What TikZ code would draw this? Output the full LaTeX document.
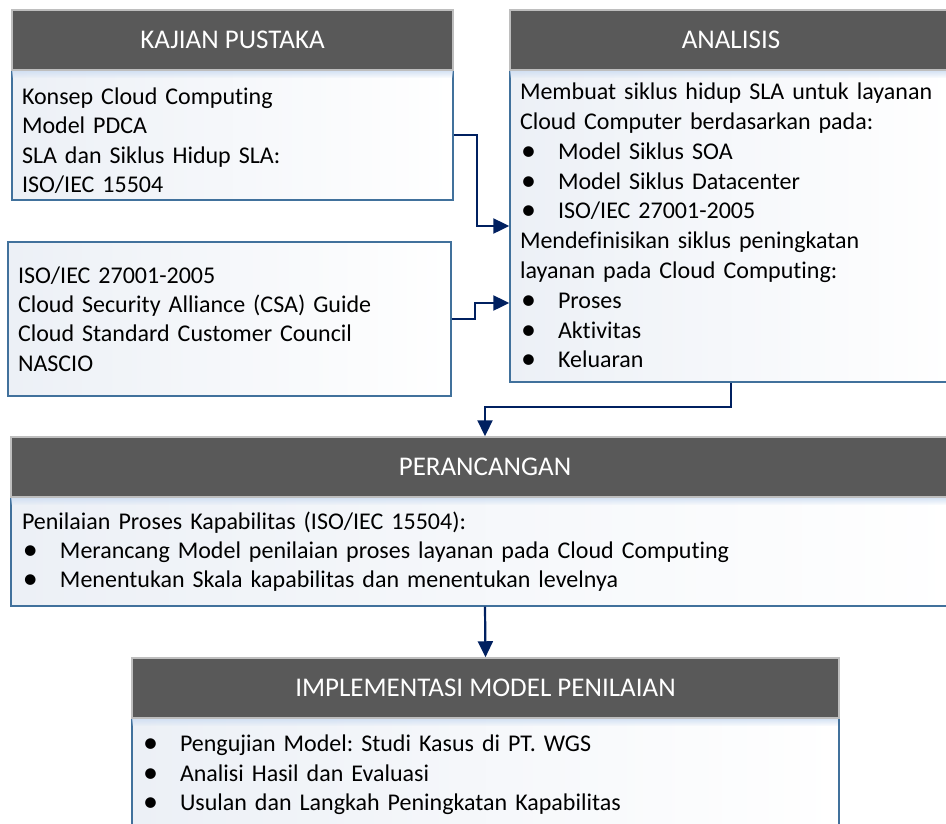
\documentclass[tikz,border=0pt]{standalone}
\usepackage{fontspec}
\setmainfont{Carlito}[Ligatures=NoCommon]
\usetikzlibrary{arrows.meta,fadings}

\definecolor{headgray}{RGB}{89,89,89}
\definecolor{headline}{RGB}{190,190,190}
\definecolor{boxline}{RGB}{65,113,156}
\definecolor{boxtint}{RGB}{236,240,246}
\definecolor{boxglow}{RGB}{205,221,242}
\definecolor{navy}{RGB}{0,32,96}

\newcommand\blt{\makebox[38pt][l]{\hspace{1pt}\raisebox{-1pt}{\fontsize{30}{30}\selectfont\textbullet}}}
\frenchspacing

\begin{document}
\begin{tikzpicture}[x=1pt,y=-1pt,
	head/.style={draw=headline,line width=1.5pt,fill=headgray,text=white,inner sep=0pt,
		minimum height=60pt,font=\fontsize{27}{30}\selectfont},
	body/.style={draw=boxline,line width=1.4pt,left color=boxtint,right color=white,
		inner xsep=10pt,inner ysep=0pt,align=left,font=\fontsize{24}{29.3}\selectfont},
	glow/.style={fill=boxglow,path fading=south},
	link/.style={draw=navy,line width=2.2pt,-{Triangle[length=16pt,width=15pt]}}]
	\useasboundingbox (0,0) rectangle (946,823);
	\clip (0,0) rectangle (946,823);

	% kajian pustaka
	\node (kbody) at (232.5,135) [body,minimum width=441pt,minimum height=130pt,text width=421pt]
		{\rule{0pt}{28pt}Konsep Cloud Computing\\Model PDCA\\SLA dan Siklus Hidup SLA:\\ISO/IEC 15504};
	\fill[glow] ([xshift=1pt]kbody.north west) rectangle ([xshift=-1pt,yshift=-9pt]kbody.north east);
	\node (khead) at (232.5,40) [head,minimum width=441pt] {KAJIAN PUSTAKA};

	% standar
	\node (sbody) at (229.5,319) [body,minimum width=443pt,minimum height=154pt,text width=423pt]
		{ISO/IEC 27001-2005\\Cloud Security Alliance (CSA) Guide\\Cloud Standard Customer Council\\NASCIO};

	% analisis
	\node (abody) at (731,226) [body,minimum width=442pt,minimum height=312pt,text width=422pt,
		font=\fontsize{24}{29.8}\selectfont]
		{Membuat siklus hidup SLA untuk layanan\\Cloud Computer berdasarkan pada:\\
		\blt Model Siklus SOA\\\blt Model Siklus Datacenter\\\blt ISO/IEC 27001-2005\\
		Mendefinisikan siklus peningkatan\\layanan pada Cloud Computing:\\
		\blt Proses\\\blt Aktivitas\\\blt Keluaran};
	\fill[glow] ([xshift=1pt]abody.north west) rectangle ([xshift=-1pt,yshift=-9pt]abody.north east);
	\node (ahead) at (731,40) [head,minimum width=442pt] {ANALISIS};

	% perancangan
	\node (pbody) at (485,551.5) [body,minimum width=948pt,minimum height=109pt,text width=926pt,inner xsep=11pt]
		{Penilaian Proses Kapabilitas (ISO/IEC 15504):\\
		\blt Merancang Model penilaian proses layanan pada Cloud Computing\\
		\blt Menentukan Skala kapabilitas dan menentukan levelnya};
	\fill[glow] ([xshift=1pt]pbody.north west) rectangle ([xshift=-1pt,yshift=-9pt]pbody.north east);
	\node (phead) at (485,467) [head,minimum width=948pt] {PERANCANGAN};

	% implementasi
	\node (ibody) at (485.5,775) [body,minimum width=707pt,minimum height=114pt,text width=687pt]
		{\blt Pengujian Model: Studi Kasus di PT. WGS\\
		\blt Analisi Hasil dan Evaluasi\\
		\blt Usulan dan Langkah Peningkatan Kapabilitas};
	\fill[glow] ([xshift=1pt]ibody.north west) rectangle ([xshift=-1pt,yshift=-9pt]ibody.north east);
	\node (ihead) at (485.5,688) [head,minimum width=707pt] {IMPLEMENTASI MODEL PENILAIAN};

	\draw[link] (kbody.east) -- ++(23,0) |- (abody.west);
	\draw[link] (sbody.east) -- ++(23,0) |- ([yshift=-77pt]abody.west);
	\draw[link] (abody.south) -- ++(0,24) -| (phead.north);
	\draw[link] (pbody.south) -- (ihead.north);
\end{tikzpicture}
\end{document}
